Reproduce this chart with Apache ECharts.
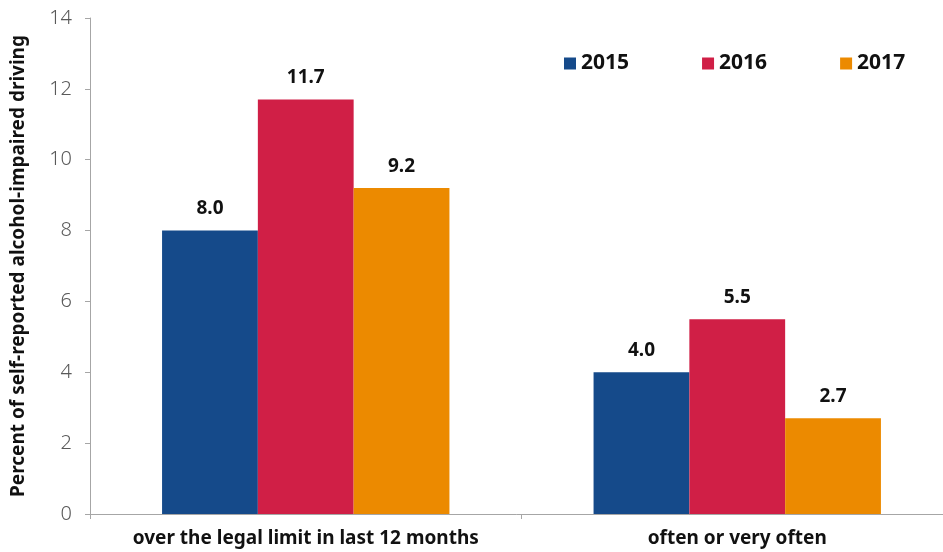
<!DOCTYPE html>
<html>
<head>
<meta charset="utf-8">
<script src="https://cdn.jsdelivr.net/npm/echarts@6/dist/echarts.min.js"></script>
<style>
  html, body { margin: 0; padding: 0; background: #fff; }
  #chart { width: 943px; height: 552px; }
</style>
</head>
<body>
<div id="chart"></div>
<script>
// data
const categories = ['over the legal limit in last 12 months', 'often or very often']
const years = ['2015', '2016', '2017']
const values2015 = [8.0, 4.0]
const values2016 = [11.7, 5.5]
const values2017 = [9.2, 2.7]
const colors = ['#154a8a', '#d01f46', '#ec8a00']

const font = 'Noto Sans'

const makeSeries = (name, data, color) => ({
  name,
  type: 'bar',
  data,
  barGap: 0,
  barCategoryGap: '33.4%',
  itemStyle: { color },
  label: {
    show: true,
    position: 'top',
    distance: 12,
    formatter: (p) => p.value.toFixed(1),
    fontFamily: font,
    fontWeight: 'bold',
    fontSize: 19,
    color: '#111'
  }
})

const chart = echarts.init(document.getElementById('chart'), null, { renderer: 'canvas' })
chart.setOption({
  animation: false,
  textStyle: { fontFamily: font },
  // plot runs a little past the right edge of the window, like the original
  grid: { left: 90, width: 863, top: 18, bottom: 38, outerBoundsMode: 'none', containLabel: false },
  legend: {
    left: 564,
    top: 53,
    padding: 0,
    itemWidth: 12,
    itemHeight: 12,
    itemGap: 73,
    icon: 'rect',
    textStyle: { fontFamily: font, fontWeight: 'bold', fontSize: 21, color: '#111' },
    data: years
  },
  xAxis: {
    type: 'category',
    data: categories,
    axisLine: { lineStyle: { color: '#a6a6a6', width: 1 } },
    axisTick: { show: true, length: 5, lineStyle: { color: '#a6a6a6' } },
    axisLabel: { interval: 0, hideOverlap: false, fontFamily: font, fontWeight: 'bold', fontSize: 19, color: '#111', margin: 15 }
  },
  yAxis: {
    type: 'value',
    min: 0,
    max: 14,
    interval: 2,
    name: 'Percent of self-reported alcohol-impaired driving',
    nameLocation: 'middle',
    nameGap: 62,
    nameMoveOverlap: false,
    nameTextStyle: { fontFamily: font, fontWeight: 'bold', fontSize: 19, color: '#111' },
    axisLine: { show: true, lineStyle: { color: '#a6a6a6', width: 1 } },
    axisTick: { show: true, length: 5, lineStyle: { color: '#a6a6a6' } },
    splitLine: { show: false },
    axisLabel: { fontFamily: font, fontWeight: 300, fontSize: 20, color: '#595959', margin: 18 }
  },
  series: [
    makeSeries(years[0], values2015, colors[0]),
    makeSeries(years[1], values2016, colors[1]),
    makeSeries(years[2], values2017, colors[2])
  ]
})
</script>
</body>
</html>
